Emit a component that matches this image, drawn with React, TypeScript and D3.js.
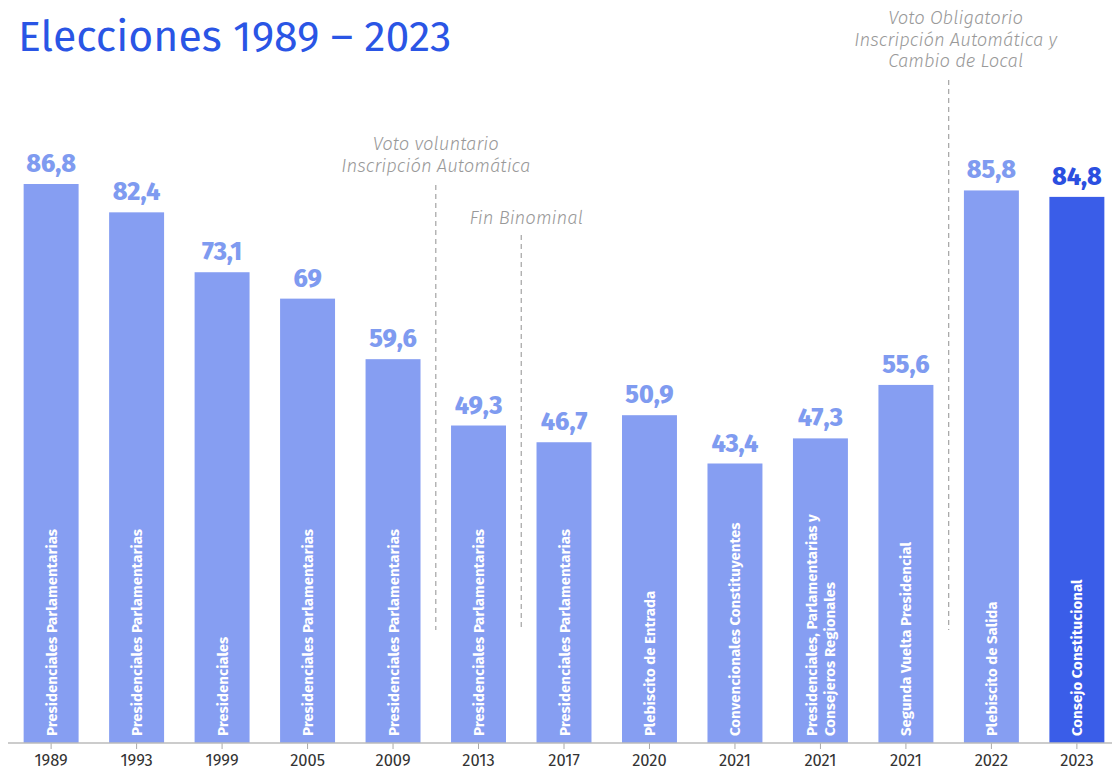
import React from "react";
import * as d3 from "d3";

const years = ["1989","1993","1999","2005","2009","2013","2017","2020","2021","2021","2021","2022","2023"];
const values = [86.8, 82.4, 73.1, 69, 59.6, 49.3, 46.7, 50.9, 43.4, 47.3, 55.6, 85.8, 84.8];
const types = [
  ["Presidenciales Parlamentarias"],
  ["Presidenciales Parlamentarias"],
  ["Presidenciales"],
  ["Presidenciales Parlamentarias"],
  ["Presidenciales Parlamentarias"],
  ["Presidenciales Parlamentarias"],
  ["Presidenciales Parlamentarias"],
  ["Plebiscito de Entrada"],
  ["Convencionales Constituyentes"],
  ["Presidenciales, Parlamentarias y", "Consejeros Regionales"],
  ["Segunda Vuelta Presidencial"],
  ["Plebiscito de Salida"],
  ["Consejo Constitucional"],
];
const annotations = [
  { after: 4, lines: ["Voto voluntario", "Inscripción Automática"], top: 185, textY: 150 },
  { after: 5, lines: ["Fin Binominal"], top: 235, textY: 224 },
  { after: 10, lines: ["Voto Obligatorio", "Inscripción Automática y", "Cambio de Local"], top: 80, textY: 24 },
];

const W = 1114, H = 772;
const FONT = "'Fira Sans', 'Noto Sans', 'Open Sans', sans-serif";

export default function App() {
  const idx = years.map((_, i) => String(i));
  const x = d3.scaleBand<string>().domain(idx).range([8.25, 1119.75]).paddingInner(0.357).paddingOuter(0.18);
  const y = d3.scaleLinear().domain([0, 86.8]).range([743, 184]);
  const bw = x.bandwidth();
  const step = x.step();
  return (
    <svg width={W} height={H} style={{ position: "absolute", left: 0, top: 0, background: "#fff" }} fontFamily={FONT}>
      <text x={18} y={51} fontSize={42.8} fill="#2a55e5">Elecciones 1989 – 2023</text>
      {values.map((v, i) => {
        const xi = x(String(i))!;
        const cx = xi + bw / 2;
        const last = i === values.length - 1;
        const lines = types[i];
        return (
          <g key={i}>
            <rect x={xi} y={y(v)} width={bw} height={743 - y(v)} fill={last ? "#3a5de8" : "#869ef2"} />
            <text x={cx} y={y(v) - 12} textAnchor="middle" fontSize={25} fontWeight={800} fill={last ? "#2b4fe0" : "#7f9bf0"}>
              {String(v).replace(".", ",")}
            </text>
            {lines.map((l, j) => {
              const off = (j - (lines.length - 1) / 2) * 18.5;
              const tx = cx + off + 5.5;
              return (
                <text key={j} transform={`translate(${tx},736) rotate(-90)`} fontSize={15} fontWeight={700} fill="#fff">{l}</text>
              );
            })}
            <line x1={cx} x2={cx} y1={743} y2={749} stroke="#aaa" />
            <text x={cx} y={766} textAnchor="middle" fontSize={16.5} fill="#333">{years[i]}</text>
          </g>
        );
      })}
      <line x1={8} x2={1112} y1={743} y2={743} stroke="#bbb" strokeWidth={1.5} />
      {annotations.map((a, k) => {
        const lx = x(String(a.after))! + bw + (step - bw) / 2;
        return (
          <g key={k}>
            <line x1={lx} x2={lx} y1={a.top} y2={630} stroke="#aaa" strokeWidth={1.3} strokeDasharray="5,4" />
            {a.lines.map((l, j) => (
              <text key={j} x={lx + (k === 1 ? 5 : k === 2 ? 7 : 0)} y={a.textY + j * 21.5} textAnchor="middle" fontSize={18.5} fontStyle="italic" fontWeight={300} fill="#999">{l}</text>
            ))}
          </g>
        );
      })}
    </svg>
  );
}
